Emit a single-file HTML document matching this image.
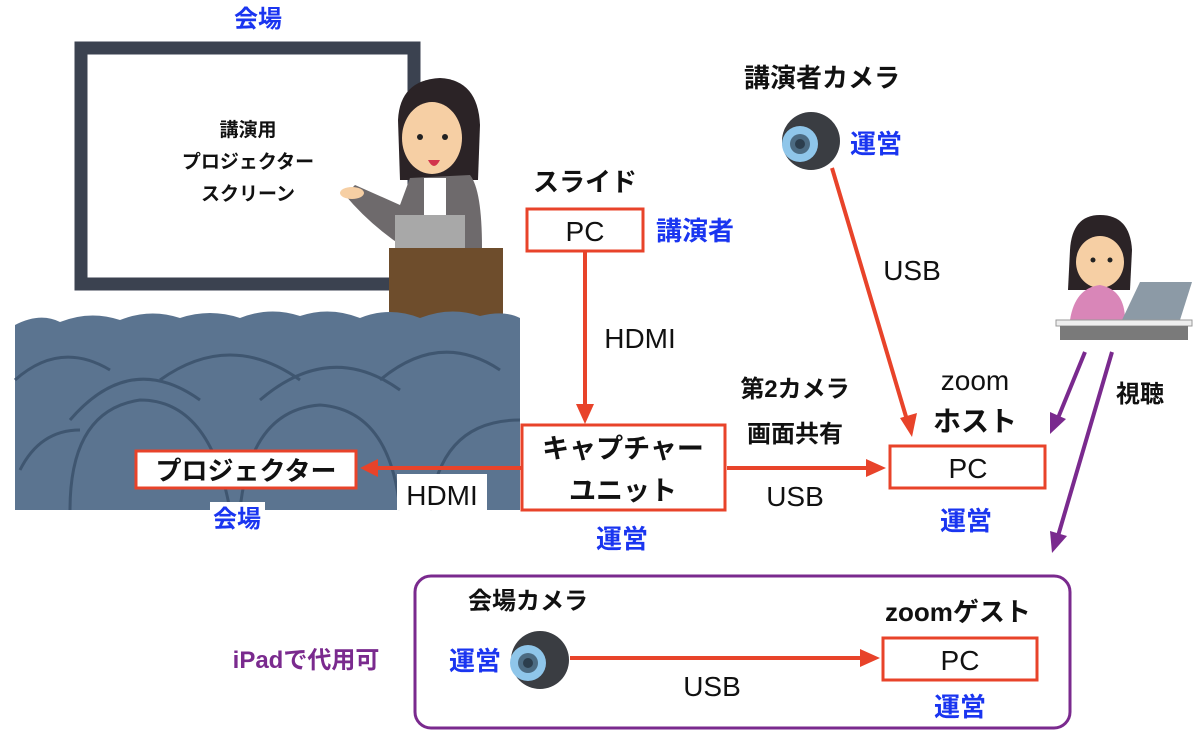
<!DOCTYPE html>
<html><head><meta charset="utf-8"><style>
html,body{margin:0;padding:0;background:#fff;}
svg{display:block;}
text{font-family:"Liberation Sans","Noto Sans CJK JP",sans-serif;font-weight:bold;}
text.n{font-weight:normal;}
</style></head><body>
<svg width="1200" height="740" viewBox="0 0 1200 740" xmlns="http://www.w3.org/2000/svg">
<!-- screen -->
<rect x="81" y="48" width="333" height="236" fill="#fff" stroke="#3b4250" stroke-width="13"/>
<g font-size="19" fill="#111" text-anchor="middle">
<text x="248" y="136">講演用</text>
<text x="248" y="168">プロジェクター</text>
<text x="248" y="200">スクリーン</text>
</g>
<text x="258" y="27" font-size="24" fill="#1a35f0" text-anchor="middle">会場</text>
<!-- presenter -->
<path d="M398 120 Q400 80 440 78 Q478 80 480 125 L478 180 L400 180 Z" fill="#2b2326"/>
<ellipse cx="432" cy="138" rx="30" ry="36" fill="#f6cfa4"/>
<circle cx="420" cy="137" r="3" fill="#222"/><circle cx="445" cy="137" r="3" fill="#222"/>
<path d="M428 160 Q434 172 440 160 Z" fill="#d2344d"/>
<path d="M410 178 L470 175 Q482 190 482 248 L405 248 Q370 225 345 195 L355 185 L400 205 Z" fill="#6e6a6c"/>
<rect x="424" y="178" width="22" height="40" fill="#fff"/>
<rect x="395" y="215" width="70" height="35" fill="#a8a8a8"/>
<ellipse cx="352" cy="193" rx="12" ry="6" fill="#f6cfa4"/>
<rect x="389" y="248" width="114" height="75" fill="#6e4d2c"/>
<!-- audience -->
<path d="M15 325 Q40 312 60 322 Q90 310 120 320 Q150 308 180 318 Q210 308 240 318 Q270 306 300 316 Q330 306 360 318 Q390 306 420 318 Q450 306 480 316 Q505 310 520 318 L520 510 L15 510 Z" fill="#5b7490"/>
<g fill="none" stroke="#3f5670" stroke-width="3">
<path d="M15 380 Q60 340 110 370"/><path d="M70 420 Q130 350 200 400"/><path d="M160 380 Q230 330 300 380"/><path d="M260 400 Q330 340 400 390"/><path d="M380 380 Q440 330 500 370"/>
<path d="M70 510 Q70 410 140 400 Q210 400 230 510"/><path d="M240 510 Q250 410 320 405 Q390 410 400 510"/><path d="M20 470 Q40 430 80 430"/><path d="M430 510 Q440 420 520 420"/>
</g>
<!-- projector -->
<rect x="136" y="451" width="220" height="37" fill="#fff" stroke="#e8432a" stroke-width="3"/>
<text x="246" y="480" font-size="26" fill="#111" text-anchor="middle">プロジェクター</text>
<rect x="210" y="502" width="55" height="30" fill="#fff"/>
<text x="237" y="527" font-size="24" fill="#1a35f0" text-anchor="middle">会場</text>
<rect x="397" y="474" width="90" height="36" fill="#fff"/>
<text class="n" x="442" y="505" font-size="28" fill="#111" text-anchor="middle">HDMI</text>
<!-- red connectors -->
<g stroke="#e8432a" stroke-width="4" fill="#e8432a">
<line x1="521" y1="468" x2="375" y2="468"/><path d="M360 468 L378 459 L378 477 Z" stroke="none"/>
<line x1="585" y1="252" x2="585" y2="408"/><path d="M585 424 L576 404 L594 404 Z" stroke="none"/>
<line x1="727" y1="468" x2="870" y2="468"/><path d="M886 468 L866 459 L866 477 Z" stroke="none"/>
<line x1="832" y1="168" x2="907" y2="420"/><path d="M912 437 L900 418 L917 413 Z" stroke="none"/>
<line x1="570" y1="658" x2="862" y2="658"/><path d="M880 658 L860 649 L860 667 Z" stroke="none"/>
</g>
<!-- slide PC -->
<text x="585" y="191" font-size="26" fill="#111" text-anchor="middle">スライド</text>
<rect x="527" y="209" width="116" height="42" fill="#fff" stroke="#e8432a" stroke-width="3"/>
<text class="n" x="585" y="241" font-size="28" fill="#111" text-anchor="middle">PC</text>
<text x="695" y="240" font-size="26" fill="#1a35f0" text-anchor="middle">講演者</text>
<text class="n" x="640" y="348" font-size="28" fill="#111" text-anchor="middle">HDMI</text>
<!-- capture -->
<rect x="522" y="425" width="203" height="85" fill="#fff" stroke="#e8432a" stroke-width="3"/>
<text x="623" y="458" font-size="27" fill="#111" text-anchor="middle">キャプチャー</text>
<text x="623" y="500" font-size="27" fill="#111" text-anchor="middle">ユニット</text>
<text x="622" y="548" font-size="26" fill="#1a35f0" text-anchor="middle">運営</text>
<text x="795" y="397" font-size="24" fill="#111" text-anchor="middle">第2カメラ</text>
<text x="795" y="442" font-size="24" fill="#111" text-anchor="middle">画面共有</text>
<text class="n" x="795" y="506" font-size="28" fill="#111" text-anchor="middle">USB</text>
<!-- host -->
<text class="n" x="975" y="390" font-size="28" fill="#111" text-anchor="middle">zoom</text>
<text x="975" y="431" font-size="28" fill="#111" text-anchor="middle">ホスト</text>
<rect x="890" y="446" width="155" height="42" fill="#fff" stroke="#e8432a" stroke-width="3"/>
<text class="n" x="968" y="478" font-size="28" fill="#111" text-anchor="middle">PC</text>
<text x="966" y="530" font-size="26" fill="#1a35f0" text-anchor="middle">運営</text>
<!-- speaker cam -->
<text x="822" y="87" font-size="26" fill="#111" text-anchor="middle">講演者カメラ</text>
<circle cx="811" cy="141" r="29" fill="#3a3d42"/>
<circle cx="800" cy="144" r="18" fill="#8fc6ea"/><circle cx="800" cy="144" r="10" fill="#4c6b82"/><circle cx="800" cy="144" r="5" fill="#2c3e4d"/>
<text x="876" y="153" font-size="26" fill="#1a35f0" text-anchor="middle">運営</text>
<text class="n" x="912" y="280" font-size="28" fill="#111" text-anchor="middle">USB</text>
<!-- viewer -->
<path d="M1070 250 Q1072 215 1100 215 Q1130 215 1132 250 L1130 290 L1068 290 Z" fill="#2b2326"/>
<ellipse cx="1100" cy="262" rx="24" ry="26" fill="#f6cfa4"/>
<circle cx="1093" cy="260" r="2.5" fill="#222"/><circle cx="1110" cy="260" r="2.5" fill="#222"/>
<path d="M1070 320 Q1075 288 1100 285 Q1125 290 1125 320 Z" fill="#d986b8"/>
<path d="M1122 320 L1140 282 L1192 282 L1180 320 Z" fill="#8c9aa6"/>
<rect x="1056" y="320" width="136" height="6" fill="#eee" stroke="#999"/>
<rect x="1060" y="326" width="128" height="14" fill="#7a7a7a"/>
<!-- purple -->
<g stroke="#7a2a8e" stroke-width="4" fill="#7a2a8e">
<line x1="1085" y1="352" x2="1058" y2="418"/><path d="M1050 434 L1050 412 L1066 419 Z" stroke="none"/>
<line x1="1112" y1="352" x2="1058" y2="536"/><path d="M1052 553 L1050 531 L1067 536 Z" stroke="none"/>
</g>
<text x="1140" y="402" font-size="24" fill="#111" text-anchor="middle">視聴</text>
<rect x="415" y="576" width="655" height="152" rx="16" fill="none" stroke="#7a2a8e" stroke-width="3"/>
<text x="306" y="668" font-size="24" fill="#7a2a8e" text-anchor="middle">iPadで代用可</text>
<text x="528" y="609" font-size="24" fill="#111" text-anchor="middle">会場カメラ</text>
<text x="475" y="670" font-size="26" fill="#1a35f0" text-anchor="middle">運営</text>
<circle cx="540" cy="660" r="29" fill="#3a3d42"/>
<circle cx="528" cy="663" r="18" fill="#8fc6ea"/><circle cx="528" cy="663" r="10" fill="#4c6b82"/><circle cx="528" cy="663" r="5" fill="#2c3e4d"/>
<text class="n" x="712" y="696" font-size="28" fill="#111" text-anchor="middle">USB</text>
<text x="958" y="621" font-size="26" fill="#111" text-anchor="middle">zoomゲスト</text>
<rect x="883" y="638" width="154" height="42" fill="#fff" stroke="#e8432a" stroke-width="3"/>
<text class="n" x="960" y="670" font-size="28" fill="#111" text-anchor="middle">PC</text>
<text x="960" y="716" font-size="26" fill="#1a35f0" text-anchor="middle">運営</text>
</svg>
</body></html>
